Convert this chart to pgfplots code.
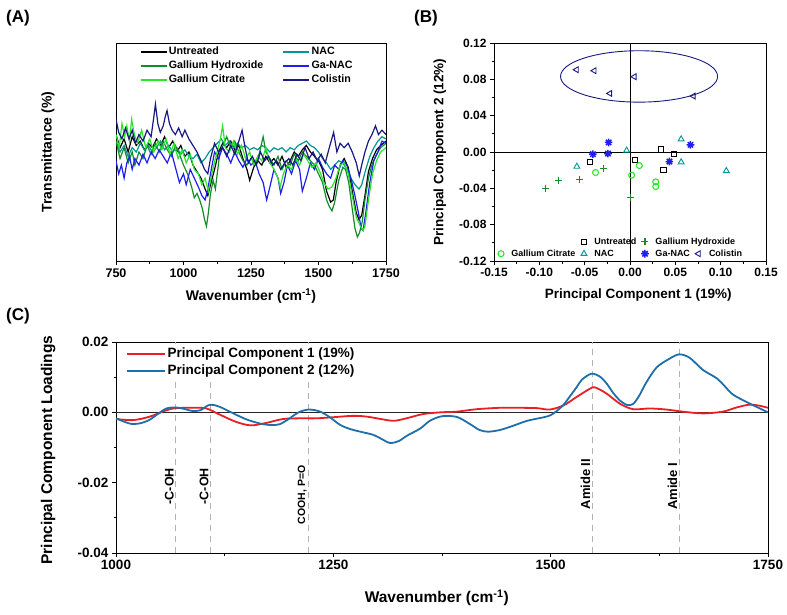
\documentclass[border=0pt]{standalone}
\usepackage{pgfplots}
\pgfplotsset{compat=1.18}
\usepackage{fontspec}
\setmainfont{Liberation Sans}
\definecolor{cUnt}{RGB}{0,0,0}
\definecolor{cNAC}{RGB}{0,150,150}
\definecolor{cGaOH}{RGB}{20,140,40}
\definecolor{cGaNAC}{RGB}{30,30,240}
\definecolor{cGaCit}{RGB}{40,230,40}
\definecolor{cCol}{RGB}{25,25,130}
\definecolor{cPCa}{RGB}{235,30,35}
\definecolor{cPCb}{RGB}{30,110,170}
\newcommand{\fs}[1]{\bfseries\fontsize{#1}{#1}\selectfont}
\pgfdeclareplotmark{star8}{%
 \pgfpathmoveto{\pgfqpoint{0pt}{\pgfplotmarksize}}\pgfpathlineto{\pgfqpoint{0pt}{-\pgfplotmarksize}}%
 \pgfpathmoveto{\pgfqpoint{\pgfplotmarksize}{0pt}}\pgfpathlineto{\pgfqpoint{-\pgfplotmarksize}{0pt}}%
 \pgfpathmoveto{\pgfqpoint{.707\pgfplotmarksize}{.707\pgfplotmarksize}}\pgfpathlineto{\pgfqpoint{-.707\pgfplotmarksize}{-.707\pgfplotmarksize}}%
 \pgfpathmoveto{\pgfqpoint{.707\pgfplotmarksize}{-.707\pgfplotmarksize}}\pgfpathlineto{\pgfqpoint{-.707\pgfplotmarksize}{.707\pgfplotmarksize}}%
 \pgfusepathqstroke}
\pgfplotsset{
  base/.style={scale only axis, axis line style={line width=0.9pt}, tick style={black,line width=0.8pt},
    major tick length=4pt, minor tick length=2.5pt, tick align=outside, tick pos=left,
    /pgf/number format/assume math mode=true, scaled ticks=false},
}
\begin{document}
\begin{tikzpicture}
\useasboundingbox (0pt,0pt) rectangle (787pt,-614pt);
\node[anchor=west, font=\fs{17}, inner sep=0pt] at (6pt,-18pt) {(A)};
\node[anchor=west, font=\fs{17}, inner sep=0pt] at (414pt,-18pt) {(B)};
\node[anchor=west, font=\fs{17}, inner sep=0pt] at (6pt,-316pt) {(C)};

% ---------------- Panel A
\begin{axis}[base, at={(116pt,-261pt)}, anchor=south west, width=270pt, height=218pt,
 xmin=750, xmax=1750, ymin=0, ymax=100,
 xtick={750,1000,1250,1500,1750}, xticklabels={750,1000,1250,1500,1750}, minor x tick num=1, ytick=\empty,
 tick label style={font=\fs{12.5}},
 xlabel={Wavenumber (cm\textsuperscript{-1})}, ylabel={Transmittance (\%)},
 label style={font=\fs{14}},
 xlabel style={at={(axis description cs:0.5,-0.16)}, anchor=center},
 ylabel style={at={(axis description cs:-0.252,0.5)}, anchor=center},
 legend columns=2, legend cell align=left,
 legend image code/.code={\draw[#1] (0pt,0pt) -- (26pt,0pt);},
 legend style={at={(axis description cs:0.085,0.995)}, anchor=north west, draw=none, fill=none,
   font=\fs{10.7}, inner sep=1pt, row sep=0.5pt, nodes={inner sep=1.5pt, text height=8pt, text depth=2.5pt},
   /tikz/every even column/.append style={column sep=18pt}},
 every axis plot/.append style={line width=1.2pt},
]
\addplot[cUnt] coordinates {(750,58)(765,52)(780,56)(795,50)(810,57)(825,53)(840,55)(855,51)(870,54)(885,52)(900,56)(915,53)(930,57)(945,52)(960,55)(975,50)(990,53)(1005,48)(1020,50)(1035,44)(1050,41)(1065,38)(1080,33)(1090,30)(1100,35)(1115,42)(1130,50)(1145,54)(1160,52)(1175,55)(1190,51)(1205,53)(1220,47)(1235,42)(1245,37)(1260,43)(1275,46)(1290,44)(1305,48)(1320,45)(1335,47)(1350,44)(1365,48)(1380,43)(1395,46)(1410,50)(1425,48)(1440,51)(1455,53)(1470,50)(1485,48)(1500,46)(1515,42)(1530,32)(1545,27)(1555,28)(1565,36)(1580,44)(1595,47)(1610,43)(1625,32)(1640,22)(1650,19)(1660,21)(1672,30)(1685,41)(1700,47)(1715,51)(1730,53)(1750,55)};
\addlegendentry{Untreated}
\addplot[cNAC] coordinates {(750,55)(765,50)(780,53)(795,48)(810,52)(825,50)(840,54)(855,51)(870,53)(885,50)(900,52)(915,55)(930,51)(945,53)(960,50)(975,52)(990,49)(1005,51)(1020,48)(1035,47)(1050,49)(1065,45)(1080,47)(1095,50)(1110,52)(1125,54)(1140,56)(1155,53)(1170,55)(1185,52)(1200,54)(1215,52)(1230,53)(1245,51)(1260,52)(1275,51)(1290,53)(1305,52)(1320,50)(1335,52)(1350,51)(1365,52)(1380,50)(1395,52)(1410,51)(1425,53)(1440,54)(1455,55)(1470,53)(1485,52)(1500,50)(1515,47)(1530,45)(1545,42)(1560,44)(1575,46)(1590,45)(1605,42)(1620,38)(1635,35)(1650,33)(1660,35)(1675,42)(1690,48)(1705,52)(1720,55)(1735,57)(1750,56)};
\addlegendentry{NAC}
\addplot[cGaOH] coordinates {(750,55)(765,47)(780,52)(795,45)(810,50)(820,44)(835,50)(850,47)(865,53)(880,49)(895,54)(910,50)(925,55)(940,51)(955,48)(970,53)(985,49)(1000,44)(1015,40)(1030,34)(1040,29)(1050,31)(1060,28)(1070,24)(1078,19)(1085,16)(1092,22)(1100,31)(1110,37)(1118,33)(1125,40)(1135,50)(1150,54)(1160,57)(1175,52)(1190,55)(1205,50)(1220,46)(1235,44)(1250,47)(1265,45)(1280,49)(1295,57)(1305,50)(1320,47)(1335,44)(1350,48)(1365,42)(1380,46)(1395,44)(1410,49)(1425,46)(1440,50)(1455,48)(1470,46)(1485,44)(1500,40)(1515,36)(1530,28)(1540,25)(1550,23)(1560,27)(1575,37)(1590,43)(1600,42)(1612,36)(1625,24)(1635,15)(1644,11)(1652,13)(1662,18)(1672,28)(1685,38)(1700,45)(1715,49)(1730,52)(1750,54)};
\addlegendentry{Gallium Hydroxide}
\addplot[cGaNAC] coordinates {(750,46)(760,40)(770,44)(780,38)(790,45)(800,48)(810,42)(820,47)(835,44)(850,49)(865,45)(880,50)(895,47)(910,51)(925,48)(940,45)(955,50)(970,43)(985,36)(1000,40)(1010,35)(1025,42)(1040,38)(1055,34)(1068,30)(1080,28)(1090,33)(1100,40)(1115,50)(1130,47)(1145,52)(1160,49)(1175,45)(1190,50)(1205,46)(1220,43)(1235,47)(1250,44)(1265,46)(1280,40)(1295,36)(1308,28)(1320,34)(1335,42)(1350,38)(1360,31)(1372,36)(1385,44)(1400,40)(1415,46)(1430,42)(1440,32)(1455,38)(1470,45)(1485,42)(1500,47)(1515,43)(1530,40)(1545,38)(1560,44)(1575,42)(1590,46)(1605,44)(1620,38)(1635,30)(1648,22)(1658,15)(1665,14)(1675,22)(1690,36)(1705,46)(1720,50)(1735,55)(1750,54)};
\addlegendentry{Ga-NAC}
\addplot[cGaCit] coordinates {(750,58)(762,52)(772,63)(782,57)(790,62)(800,55)(808,65)(818,58)(830,54)(845,60)(860,52)(875,56)(890,50)(905,55)(920,51)(935,56)(950,49)(965,54)(980,47)(995,51)(1010,45)(1025,49)(1040,42)(1055,40)(1068,35)(1080,38)(1092,32)(1105,40)(1120,48)(1135,55)(1145,62)(1155,52)(1170,50)(1185,55)(1200,49)(1215,53)(1230,47)(1245,50)(1260,44)(1275,48)(1290,46)(1305,52)(1320,45)(1335,42)(1350,38)(1358,34)(1370,40)(1385,44)(1400,42)(1415,47)(1430,44)(1445,49)(1460,46)(1475,43)(1490,45)(1505,41)(1520,36)(1535,33)(1550,34)(1565,38)(1580,44)(1595,45)(1610,40)(1625,30)(1640,20)(1655,16)(1665,14)(1672,16)(1685,28)(1700,40)(1715,46)(1730,50)(1750,52)};
\addlegendentry{Gallium Citrate}
\addplot[cCol] coordinates {(750,65)(760,59)(772,56)(785,61)(798,56)(810,60)(822,54)(835,58)(850,55)(865,60)(880,57)(890,66)(896,72)(905,63)(914,59)(925,62)(932,66)(939,69)(948,63)(958,60)(970,58)(982,61)(995,57)(1005,60)(1020,56)(1035,53)(1050,50)(1065,46)(1078,42)(1090,40)(1100,47)(1115,54)(1130,50)(1145,52)(1160,48)(1175,53)(1190,49)(1205,55)(1217,60)(1228,52)(1240,45)(1255,48)(1270,44)(1285,50)(1300,46)(1315,48)(1330,44)(1345,46)(1360,42)(1375,45)(1390,47)(1405,44)(1420,49)(1435,46)(1450,52)(1465,47)(1480,50)(1495,46)(1510,49)(1525,45)(1540,52)(1556,59)(1568,50)(1580,54)(1595,52)(1610,54)(1625,50)(1640,45)(1651,39)(1660,44)(1672,50)(1685,55)(1698,58)(1711,62)(1722,58)(1735,60)(1750,58)};
\addlegendentry{Colistin}
\end{axis}

% ---------------- Panel B
\begin{axis}[base, at={(494pt,-261pt)}, anchor=south west, width=272pt, height=218pt,
 xmin=-0.15, xmax=0.15, ymin=-0.12, ymax=0.12,
 xtick={-0.15,-0.10,-0.05,0,0.05,0.10,0.15}, xticklabels={-0.15,-0.10,-0.05,0.00,0.05,0.10,0.15},
 ytick={-0.12,-0.08,-0.04,0,0.04,0.08,0.12}, yticklabels={-0.12,-0.08,-0.04,0.00,0.04,0.08,0.12},
 minor x tick num=1, minor y tick num=1,
 tick label style={font=\fs{12}}, label style={font=\fs{13.5}},
 xlabel={Principal Component 1 (19\%)}, ylabel={Principal Component 2 (12\%)},
 xlabel style={at={(axis description cs:0.53,-0.156)}, anchor=center},
 ylabel style={at={(axis description cs:-0.199,0.5)}, anchor=center},
 legend columns=4, legend cell align=left,
 legend image code/.code={\path[draw=none,fill=none] (0pt,-2pt) rectangle (13pt,2pt); \draw[mark repeat=2,mark phase=2,#1] plot coordinates {(0pt,0pt) (4pt,0pt) (13pt,0pt)};},
 legend style={at={(axis description cs:0.918,0.005)}, anchor=south east, draw=none, fill=none,
   font=\fs{9}, inner sep=0pt, row sep=0pt, nodes={inner sep=1.5pt, text height=7pt, text depth=2pt},
   /tikz/every even column/.append style={column sep=3pt}},
]
\draw[black, line width=0.9pt] (axis cs:0,-0.12) -- (axis cs:0,0.12);
\draw[black, line width=0.9pt] (axis cs:-0.15,0) -- (axis cs:0.15,0);
\draw[cCol, line width=0.9pt] (axis cs:0.01,0.0832) ellipse [x radius=0.0866, y radius=0.0283];
\addlegendimage{empty legend}\addlegendentry{}
\addplot[only marks, mark=square, mark size=2.6pt, black, line width=0.9pt] coordinates {(-0.0442,-0.0112)(0.0055,-0.0086)(0.0339,0.0028)(0.0487,-0.0017)(0.0369,-0.0197)};
\addlegendentry{Untreated}
\addplot[only marks, mark=+, mark size=3.5pt, cGaOH, line width=1.3pt] coordinates {(-0.0933,-0.0402)(-0.0792,-0.0311)(-0.0557,-0.0303)(-0.0295,-0.0178)(0.0007,-0.0498)};
\addlegendentry{\makebox[29pt][l]{Gallium Hydroxide}}
\addlegendimage{empty legend}\addlegendentry{}
\addplot[only marks, mark=o, mark size=3pt, cGaCit, line width=1.1pt] coordinates {(-0.038,-0.0226)(0.0018,-0.0255)(0.0103,-0.0149)(0.0284,-0.0329)(0.0284,-0.038)};
\addlegendentry{Gallium Citrate}
\addplot[only marks, mark=triangle, mark size=3.4pt, cNAC, line width=0.9pt] coordinates {(-0.0586,-0.016)(-0.0037,0.0017)(0.0564,0.0141)(0.0564,-0.0112)(0.1062,-0.0208)};
\addlegendentry{NAC}
\addplot[only marks, mark=star8, mark size=3.8pt, cGaNAC, line width=1.5pt] coordinates {(-0.0409,-0.0024)(-0.0236,0.0105)(-0.0243,-0.0017)(0.0435,-0.0105)(0.0667,0.0079)};
\addlegendentry{Ga-NAC}
\addplot[only marks, mark=triangle, mark options={rotate=90}, mark size=3.4pt, cCol, line width=0.9pt] coordinates {(-0.059,0.0906)(-0.0394,0.0895)(-0.0221,0.0645)(0.0048,0.0829)(0.070,0.0616)};
\addlegendentry{Colistin}
\end{axis}

% ---------------- Panel C
\begin{axis}[base, at={(116pt,-553pt)}, anchor=south west, width=652pt, height=211pt,
 xmin=1000, xmax=1750, ymin=-0.04, ymax=0.02,
 xtick={1000,1250,1500,1750}, xticklabels={1000,1250,1500,1750},
 ytick={-0.04,-0.02,0,0.02}, yticklabels={-0.04,-0.02,0.00,0.02},
 minor x tick num=1, minor y tick num=1,
 tick label style={font=\fs{13.5}}, label style={font=\fs{15.5}},
 xlabel={Wavenumber (cm\textsuperscript{-1})}, ylabel={Principal Component Loadings},
 xlabel style={at={(axis description cs:0.492,-0.213)}, anchor=center},
 ylabel style={at={(axis description cs:-0.104,0.488)}, anchor=center},
 legend cell align=left,
 legend image code/.code={\draw[#1, line width=2pt] (0pt,0pt) -- (38pt,0pt);},
 legend style={at={(axis description cs:0.0138,0.986)}, anchor=north west, draw=none, fill=white,
   font=\fs{13.5}, inner sep=1pt, row sep=2pt, nodes={inner sep=1.5pt, text height=9.5pt, text depth=3pt}},
]
\draw[black!85, line width=0.8pt] (axis cs:1000,0) -- (axis cs:1750,0);
\draw[gray!60, line width=1pt, dash pattern=on 6pt off 5pt] (axis cs:1069,-0.04) -- (axis cs:1069,0.02);
\draw[gray!60, line width=1pt, dash pattern=on 6pt off 5pt] (axis cs:1109,-0.04) -- (axis cs:1109,0.02);
\draw[gray!60, line width=1pt, dash pattern=on 6pt off 5pt] (axis cs:1222,-0.04) -- (axis cs:1222,0.02);
\draw[gray!60, line width=1pt, dash pattern=on 6pt off 5pt] (axis cs:1548,-0.04) -- (axis cs:1548,0.02);
\draw[gray!60, line width=1pt, dash pattern=on 6pt off 5pt] (axis cs:1648,-0.04) -- (axis cs:1648,0.02);
\node[rotate=90, anchor=south, font=\fs{12.5}, inner sep=2pt] at (axis cs:1069,-0.021) {-C-OH};
\node[rotate=90, anchor=south, font=\fs{12.5}, inner sep=2pt] at (axis cs:1109,-0.021) {-C-OH};
\node[rotate=90, anchor=south, font=\fs{10.5}, inner sep=2pt] at (axis cs:1222,-0.0235) {COOH, P=O};
\node[rotate=90, anchor=south, font=\fs{13}, inner sep=2pt] at (axis cs:1548,-0.0204) {Amide II};
\node[rotate=90, anchor=south, font=\fs{13}, inner sep=2pt] at (axis cs:1648,-0.021) {Amide I};
\addplot[cPCa, line width=1.8pt, smooth] coordinates {(1000,-0.0019)(1020,-0.0022)(1039,-0.0012)(1058,0.0006)(1069,0.0012)(1089,0.0013)(1104,0.0011)(1119,-0.0006)(1138,-0.0027)(1155,-0.0037)(1173,-0.0030)(1192,-0.0019)(1211,-0.0017)(1230,-0.0017)(1249,-0.0014)(1272,-0.0010)(1288,-0.0012)(1307,-0.0020)(1320,-0.0024)(1334,-0.0017)(1353,-0.0005)(1373,0.0000)(1392,0.0002)(1415,0.0009)(1442,0.0013)(1461,0.0013)(1484,0.0012)(1499,0.0008)(1515,0.0020)(1530,0.0044)(1545,0.0067)(1551,0.0071)(1564,0.0054)(1580,0.0024)(1595,0.0009)(1614,0.0011)(1633,0.0008)(1652,0.0002)(1675,-0.0003)(1698,0.0002)(1714,0.0014)(1729,0.0022)(1740,0.0019)(1750,0.0013)};
\addlegendentry{Principal Component 1 (19\%)}
\addplot[cPCb, line width=1.8pt, smooth] coordinates {(1000,-0.0017)(1010,-0.0027)(1018,-0.0033)(1028,-0.0031)(1038,-0.0022)(1048,-0.0005)(1058,0.0011)(1069,0.0014)(1078,0.0010)(1088,0.0004)(1097,0.0006)(1106,0.0020)(1112,0.0021)(1120,0.0015)(1135,-0.0003)(1150,-0.0020)(1166,-0.0032)(1178,-0.0036)(1188,-0.0034)(1198,-0.0020)(1210,0.0000)(1222,0.0008)(1235,0.0002)(1246,-0.0014)(1258,-0.0036)(1270,-0.0048)(1281,-0.0055)(1296,-0.0064)(1305,-0.0075)(1315,-0.0087)(1325,-0.0082)(1335,-0.0066)(1350,-0.0046)(1361,-0.0024)(1375,-0.0011)(1392,-0.0013)(1407,-0.0033)(1418,-0.0050)(1428,-0.0055)(1442,-0.0050)(1457,-0.0038)(1473,-0.0024)(1492,-0.0014)(1500,-0.0008)(1507,0.0004)(1515,0.0022)(1522,0.0045)(1530,0.0072)(1536,0.0093)(1547,0.0110)(1557,0.0101)(1565,0.0080)(1572,0.0055)(1580,0.0033)(1588,0.0021)(1595,0.0024)(1602,0.0048)(1610,0.0085)(1622,0.0128)(1637,0.0153)(1648,0.0165)(1660,0.0155)(1675,0.0121)(1691,0.0097)(1700,0.0075)(1710,0.0050)(1729,0.0025)(1750,0.0000)};
\addlegendentry{Principal Component 2 (12\%)}
\end{axis}
\end{tikzpicture}
\end{document}
